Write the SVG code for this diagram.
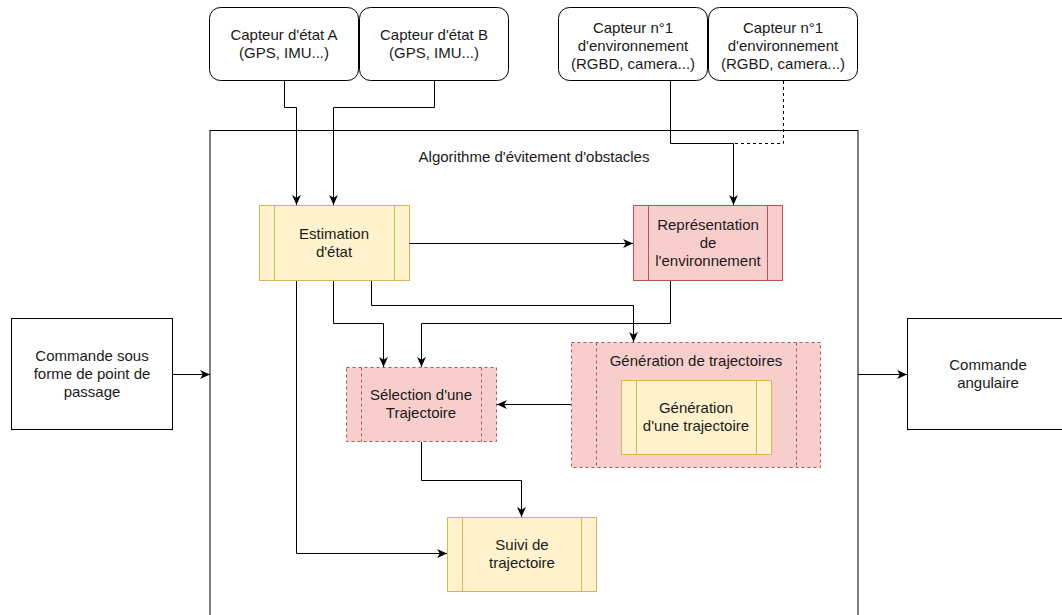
<svg xmlns="http://www.w3.org/2000/svg" width="1062" height="615" viewBox="0 0 1062 615">
<defs>
<style>
text{font-family:"Liberation Sans",Arial,sans-serif;font-size:15px;fill:#1a1a1a;text-anchor:middle}
.plain{fill:#fff;stroke:#000;stroke-width:1}
.yel{fill:#fff2cc;stroke:#d6b656;stroke-width:1}
.red{fill:#f8cecc;stroke:#b85450;stroke-width:1;stroke-dasharray:3 3}
.redsolid{fill:#f8cecc;stroke:#b85450;stroke-width:1}
.conn{fill:none;stroke:#000;stroke-width:1;marker-end:url(#arr)}
.line{fill:none;stroke:#000;stroke-width:1}
</style>
<marker id="arr" viewBox="0 0 10 10" refX="9" refY="5" markerWidth="11" markerHeight="11" markerUnits="userSpaceOnUse" orient="auto">
<path d="M0,1 L9,5 L0,9 L2.5,5 Z" fill="#000"/>
</marker>
</defs>
<rect width="1062" height="615" fill="#fff"/>

<g id="container">
<rect class="plain" x="210" y="130.5" width="648" height="500"/>
<text x="534" y="162">Algorithme d'évitement d'obstacles</text>
</g>

<g id="capteurA">
<rect class="plain" x="209.5" y="7.5" width="149" height="73" rx="11"/>
<text x="284" y="40">Capteur d'état A</text>
<text x="284" y="58">(GPS, IMU...)</text>
</g>
<g id="capteurB">
<rect class="plain" x="359.5" y="7.5" width="149" height="73" rx="11"/>
<text x="434" y="40">Capteur d'état B</text>
<text x="434" y="58">(GPS, IMU...)</text>
</g>
<g id="env1">
<rect class="plain" x="558.5" y="7.5" width="149" height="73" rx="11"/>
<text x="633" y="33">Capteur n°1</text>
<text x="633" y="51">d'environnement</text>
<text x="633" y="69">(RGBD, camera...)</text>
</g>
<g id="env2">
<rect class="plain" x="708.5" y="7.5" width="149" height="73" rx="11"/>
<text x="783" y="33">Capteur n°1</text>
<text x="783" y="51">d'environnement</text>
<text x="783" y="69">(RGBD, camera...)</text>
</g>

<g id="estimation">
<rect class="yel" x="259.5" y="205.5" width="150" height="75"/>
<line class="yel" x1="274.5" y1="205.5" x2="274.5" y2="280.5"/>
<line class="yel" x1="394.5" y1="205.5" x2="394.5" y2="280.5"/>
<text x="334" y="239">Estimation</text>
<text x="334" y="257">d'état</text>
</g>

<g id="representation">
<rect class="redsolid" x="633.5" y="205.5" width="149" height="75"/>
<line class="redsolid" x1="648.5" y1="205.5" x2="648.5" y2="280.5"/>
<line class="redsolid" x1="767.5" y1="205.5" x2="767.5" y2="280.5"/>
<text x="708" y="230">Représentation</text>
<text x="708" y="248">de</text>
<text x="708" y="266">l'environnement</text>
</g>

<g id="selection">
<rect class="red" x="346.5" y="367.5" width="150" height="74"/>
<line class="red" x1="361.5" y1="367.5" x2="361.5" y2="441.5"/>
<line class="red" x1="481.5" y1="367.5" x2="481.5" y2="441.5"/>
<text x="421" y="400">Sélection d'une</text>
<text x="421" y="418">Trajectoire</text>
</g>

<g id="generation">
<rect class="red" x="571.5" y="342.5" width="249" height="125"/>
<line class="red" x1="596.5" y1="342.5" x2="596.5" y2="467.5"/>
<line class="red" x1="796.5" y1="342.5" x2="796.5" y2="467.5"/>
<text x="696" y="366">Génération de trajectoires</text>
</g>

<g id="generationUne">
<rect class="yel" x="621.5" y="380.5" width="150" height="74"/>
<line class="yel" x1="636.5" y1="380.5" x2="636.5" y2="454.5"/>
<line class="yel" x1="756.5" y1="380.5" x2="756.5" y2="454.5"/>
<text x="696" y="413">Génération</text>
<text x="696" y="431">d'une trajectoire</text>
</g>

<g id="suivi">
<rect class="yel" x="447.5" y="517.5" width="149" height="74"/>
<line class="yel" x1="462.5" y1="517.5" x2="462.5" y2="591.5"/>
<line class="yel" x1="581.5" y1="517.5" x2="581.5" y2="591.5"/>
<text x="522" y="550">Suivi de</text>
<text x="522" y="568">trajectoire</text>
</g>

<g id="commandeEntree">
<rect class="plain" x="11.5" y="318.5" width="161" height="111"/>
<text x="92" y="361">Commande sous</text>
<text x="92" y="379">forme de point de</text>
<text x="92" y="397">passage</text>
</g>

<g id="commandeSortie">
<rect class="plain" x="907.5" y="318.5" width="162" height="111"/>
<text x="988" y="370">Commande</text>
<text x="988" y="388">angulaire</text>
</g>

<g id="connectors">
<path class="conn" d="M284.5,81 V107.5 H296.5 V205"/>
<path class="conn" d="M434.5,81 V107.5 H333.5 V205"/>
<path class="conn" d="M670.5,81 V143.5 H733.5 V205"/>
<path class="line" d="M783.5,81 V143.5 H733.5" stroke-dasharray="3 3"/>
<path class="conn" d="M409.5,243.5 H633"/>
<path class="conn" d="M296.5,281 V553.5 H447"/>
<path class="conn" d="M333.5,281 V323.5 H383.5 V367"/>
<path class="conn" d="M371.5,281 V305.5 H633.5 V342"/>
<path class="conn" d="M670.5,281 V323.5 H421.5 V367"/>
<path class="conn" d="M571,404.5 H497"/>
<path class="conn" d="M421.5,442 V480.5 H521.5 V517"/>
<path class="conn" d="M172.5,374.5 H210"/>
<path class="conn" d="M858,374.5 H907"/>
</g>
</svg>
